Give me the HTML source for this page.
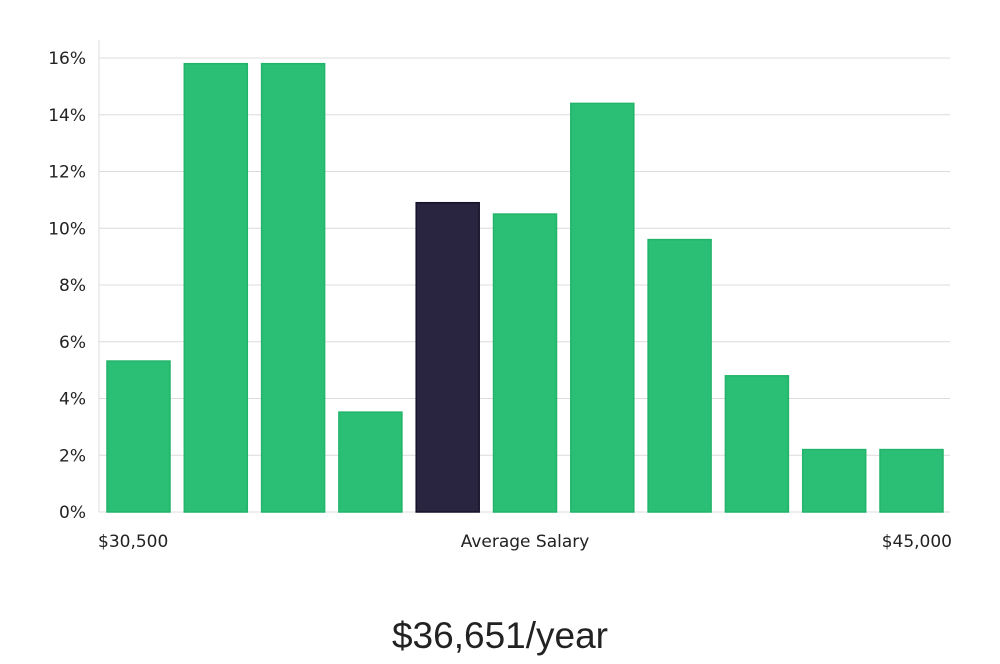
<!DOCTYPE html>
<html><head><meta charset="utf-8"><style>
body{margin:0;background:#fff;width:1000px;height:660px;overflow:hidden;font-family:"DejaVu Sans","Liberation Sans",sans-serif;}
</style></head><body>
<svg id="chart" width="1000" height="660" xmlns="http://www.w3.org/2000/svg"></svg>
<script>
const categories=["b1","b2","b3","b4","b5","b6","b7","b8","b9","b10","b11"];
const values=[5.32,15.8,15.8,3.52,10.9,10.5,14.4,9.6,4.8,2.2,2.2];
const highlight=[false,false,false,false,true,false,false,false,false,false,false];
const yTicks=[0,2,4,6,8,10,12,14,16];
const yTickLabels=["0%","2%","4%","6%","8%","10%","12%","14%","16%"];
const xLabels=["$30,500","Average Salary","$45,000"];
const titleText="$36,651/year";
const svg=document.getElementById('chart');
const NS="http://www.w3.org/2000/svg";
const x0=99,x1=950,yBase=512,pxPer=28.375;
const y=v=>yBase-v*pxPer;
const pitch=77.3,bw=63,bx0=107;
const bx=i=>bx0+i*pitch;
function mk(t,a,p){const e=document.createElementNS(NS,t);for(const k in a)e.setAttribute(k,a[k]);(p||svg).appendChild(e);return e;}
const grid=mk('g',{});


yTicks.forEach((t,i)=>{
  const l=mk('line',{x1:x0,x2:x1,y1:y(t),y2:y(t),stroke:'#dcdcdc','stroke-width':1},grid);
  
  
  const tx=mk('text',{x:86,y:y(t)+6,'text-anchor':'end','font-size':17,fill:'#222'});
  tx.textContent=yTickLabels[i];
  
  
});
const ax=mk('line',{x1:x0,x2:x0,y1:40,y2:yBase,stroke:'#dcdcdc','stroke-width':1});


values.forEach((v,i)=>{
  const r=mk('rect',{x:bx(i),y:y(v),width:bw,height:v*pxPer,fill:highlight[i]?'#29243f':'#2bbf75',stroke:highlight[i]?'#15122a':'#22b46a','stroke-width':1.5});
  
  
});
const xl=[[98,'start'],[525,'middle'],[952,'end']];
xLabels.forEach((s,i)=>{
  const t=mk('text',{x:xl[i][0],y:547,'text-anchor':xl[i][1],'font-size':17,fill:'#222'});
  t.textContent=s;
  
  
});
const tt=mk('text',{x:500,y:648,'text-anchor':'middle','font-size':37,fill:'#222','font-family':'"Liberation Sans",sans-serif'});
tt.textContent=titleText;


</script>
</body></html>
